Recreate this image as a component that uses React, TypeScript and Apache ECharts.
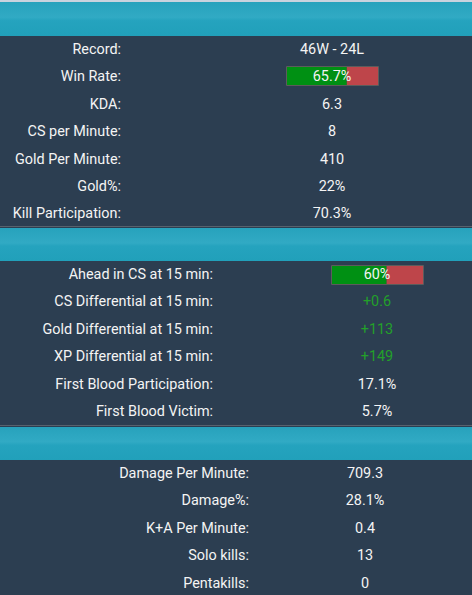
import React, { useEffect, useRef } from 'react';
import * as echarts from 'echarts';

// rows of the three stat blocks
const generalLabels = ['Record:', 'Win Rate:', 'KDA:', 'CS per Minute:', 'Gold Per Minute:', 'Gold%:', 'Kill Participation:'];
const generalValues = ['46W - 24L', '65.7%', '6.3', '8', '410', '22%', '70.3%'];
const winRate = 65.7;

const laningLabels = ['Ahead in CS at 15 min:', 'CS Differential at 15 min:', 'Gold Differential at 15 min:', 'XP Differential at 15 min:', 'First Blood Participation:', 'First Blood Victim:'];
const laningValues = ['60%', '+0.6', '+113', '+149', '17.1%', '5.7%'];
const aheadInCs = 60;

const combatLabels = ['Damage Per Minute:', 'Damage%:', 'K+A Per Minute:', 'Solo kills:', 'Pentakills:'];
const combatValues = ['709.3', '28.1%', '0.4', '13', '0'];

const W = 472;
const H = 595;
const ROW = 27.4;
const FONT = 'Roboto, "Noto Sans", sans-serif';

const headerFill = new echarts.graphic.LinearGradient(0, 0, 0, 1, [
    { offset: 0, color: '#27a2bc' },
    { offset: 0.45, color: '#31aac4' },
    { offset: 0.55, color: '#25a3be' },
    { offset: 1, color: '#21a0ba' }
]);

const App: React.FC = () => {
    const chartRef = useRef<HTMLDivElement>(null);

    useEffect(() => {
        document.body.style.margin = '0';
        if (!chartRef.current) return;
        const myChart = echarts.init(chartRef.current, null, { renderer: 'svg' });

        const sections = [
            { top: 36, bottom: 227, header: 2, labels: generalLabels, values: generalValues, labelRight: 121, valueX: 332 },
            { top: 261, bottom: 426, header: 228, labels: laningLabels, values: laningValues, labelRight: 213, valueX: 377 },
            { top: 460, bottom: H, header: 427, labels: combatLabels, values: combatValues, labelRight: 249, valueX: 365 }
        ];

        const graphics: any[] = [
            { type: 'rect', shape: { x: 0, y: 0, width: W, height: H }, style: { fill: '#2c3e51' }, z: 0 },
            { type: 'rect', shape: { x: 0, y: 0, width: W, height: 2 }, style: { fill: '#c9d3de' }, z: 1 }
        ];

        sections.forEach((s, si) => {
            graphics.push({
                type: 'rect',
                shape: { x: 0, y: s.header, width: W, height: s.top - s.header },
                style: { fill: headerFill },
                z: 1
            });
            if (si < 2) {
                graphics.push({
                    type: 'rect',
                    shape: { x: 0, y: s.bottom - 1, width: W, height: 1 },
                    style: { fill: '#58626d' },
                    z: 1
                });
            }
            s.labels.forEach((lab, i) => {
                const y = s.top + ROW * (i + 0.5) - 0.3;
                graphics.push({
                    type: 'text',
                    x: s.labelRight,
                    y,
                    z: 100,
                    style: { text: lab, fill: '#f4f4f4', font: `14.4px ${FONT}`, align: 'right', verticalAlign: 'middle' }
                });
                const val = s.values[i];
                graphics.push({
                    type: 'text',
                    x: s.valueX,
                    y,
                    z: 100,
                    style: {
                        text: val,
                        fill: val.startsWith('+') ? '#23a02a' : '#f4f4f4',
                        font: `14.4px ${FONT}`,
                        align: 'center',
                        verticalAlign: 'middle'
                    }
                });
            });
        });

        const bars = [
            { value: winRate, left: 287, top: 67 },
            { value: aheadInCs, left: 332, top: 266 }
        ];
        bars.forEach((b) => {
            graphics.push({
                type: 'rect',
                shape: { x: b.left - 0.5, y: b.top - 0.5, width: 92, height: 19 },
                style: { fill: 'none', stroke: '#5c5c5c', lineWidth: 1 },
                z: 50
            });
        });

        const option = {
            animation: false,
            graphic: graphics,
            grid: bars.map((b) => ({ left: b.left, top: b.top, width: 91, height: 18 })),
            xAxis: bars.map((_, i) => ({ type: 'value', min: 0, max: 100, show: false, gridIndex: i })),
            yAxis: bars.map((_, i) => ({ type: 'category', data: [''], show: false, gridIndex: i })),
            series: bars.flatMap((b, i) => [
                {
                    type: 'bar', xAxisIndex: i, yAxisIndex: i, stack: 's' + i, barWidth: '100%',
                    data: [b.value], itemStyle: { color: '#009013' }, z: 10
                },
                {
                    type: 'bar', xAxisIndex: i, yAxisIndex: i, stack: 's' + i, barWidth: '100%',
                    data: [100 - b.value], itemStyle: { color: '#be454a' }, z: 10
                }
            ])
        };

        myChart.setOption(option);

        return () => {
            myChart.dispose();
        };
    }, []);

    return <div ref={chartRef} style={{ width: W + 'px', height: H + 'px' }} />;
};

export default App;
